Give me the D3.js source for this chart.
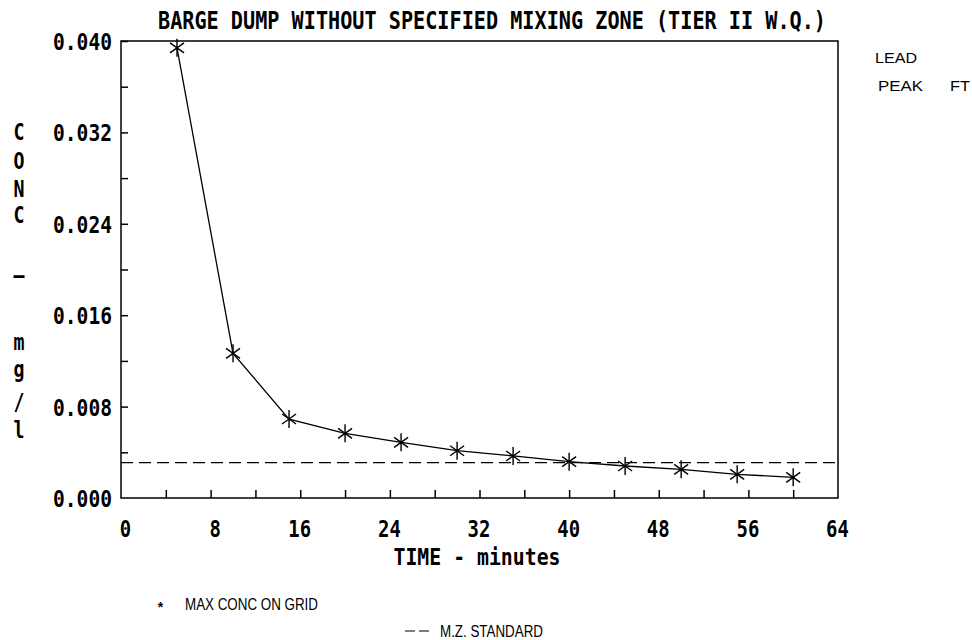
<!DOCTYPE html>
<html>
<head>
<meta charset="utf-8">
<script src="https://cdn.jsdelivr.net/npm/d3@7"></script>
<style>
  html, body { margin: 0; padding: 0; background: #fff; }
  svg { display: block; }
  .mono { font-family: "DejaVu Sans Mono", "Liberation Mono", monospace; font-weight: bold; }
  .sans { font-family: "Liberation Sans", Arial, sans-serif; }
</style>
</head>
<body>
<svg id="chart" width="972" height="640"></svg>
<script>
// ---- data ----
const times = [5, 10, 15, 20, 25, 30, 35, 40, 45, 50, 55, 60];
const maxConc = [0.0394, 0.01266, 0.00691, 0.00566, 0.00487, 0.00414, 0.00368, 0.00318, 0.00280, 0.00251, 0.00207, 0.00181];
const mzStandard = [0.0031];
const xTickLabels = [0, 8, 16, 24, 32, 40, 48, 56, 64];
const xMinorTicks = [4, 12, 20, 28, 36, 44, 52, 60];
const yTickLabels = [0.000, 0.008, 0.016, 0.024, 0.032, 0.040];
const yMinorTicks = [0.004, 0.012, 0.020, 0.028, 0.036];
const titleText = "BARGE DUMP WITHOUT SPECIFIED MIXING ZONE (TIER II W.Q.)";
const xTitle = "TIME - minutes";
const yTitleChars = ["C", "O", "N", "C", "\u2013", "m", "g", "/", "l"];
const yTitleY = [140, 169, 197, 223, 283, 350, 377, 410, 438];
const sideLabels = ["LEAD", "PEAK", "FT"];
const legendSeries = "MAX CONC ON GRID";
const legendStandard = "M.Z. STANDARD";

(function () {
// ---- layout ----
const mLeft = 121, mRight = 838, mTop = 41, mBottom = 498;
const svg = d3.select("#chart");

const x = d3.scaleLinear().domain([0, 64]).range([mLeft, mRight]);
const y = d3.scaleLinear().domain([0, 0.04]).range([mBottom, mTop]);

// frame
svg.append("rect")
  .attr("x", mLeft).attr("y", mTop)
  .attr("width", mRight - mLeft).attr("height", mBottom - mTop)
  .attr("fill", "none").attr("stroke", "#000").attr("stroke-width", 1.5);

// bottom axis (ticks point upward)
const xAxis = d3.axisBottom(x)
  .tickValues(xTickLabels.concat(xMinorTicks))
  .tickSize(-8)
  .tickFormat(d => xTickLabels.includes(d) ? String(d) : "");
const gx = svg.append("g").attr("transform", `translate(0,${mBottom})`).call(xAxis);
gx.select(".domain").remove();
gx.selectAll(".tick line").attr("stroke", "#000").attr("stroke-width", 1.5)
  .filter(d => d === 0 || d === 64).remove();
gx.selectAll(".tick text")
  .attr("class", "mono")
  .attr("y", 39).attr("dy", null)
  .attr("dx", d => String(d).length === 1 ? 4 : -1)
  .attr("font-size", 23)
  .attr("fill", "#000")
  .attr("textLength", d => xTickLabels.includes(d) ? String(d).length * 11.4 : null)
  .attr("lengthAdjust", "spacingAndGlyphs");

// left axis (ticks point right/inward)
const yAxis = d3.axisLeft(y)
  .tickValues(yTickLabels.concat(yMinorTicks))
  .tickSize(-7)
  .tickFormat(d => yTickLabels.some(v => Math.abs(v - d) < 1e-9) ? d3.format(".3f")(d) : "");
const gy = svg.append("g").attr("transform", `translate(${mLeft},0)`).call(yAxis);
gy.select(".domain").remove();
gy.selectAll(".tick line").attr("stroke", "#000").attr("stroke-width", 1.5)
  .filter(d => Math.abs(d) < 1e-9).remove();
gy.selectAll(".tick text")
  .attr("class", "mono")
  .attr("x", -9).attr("dy", null).attr("y", 8.5)
  .attr("font-size", 23)
  .attr("fill", "#000")
  .attr("text-anchor", "end")
  .attr("textLength", 59)
  .attr("lengthAdjust", "spacingAndGlyphs");

// standard dashed line
svg.append("g").selectAll("line").data(mzStandard).join("line")
  .attr("x1", x(0)).attr("x2", x(64))
  .attr("y1", d => y(d)).attr("y2", d => y(d))
  .attr("stroke", "#000").attr("stroke-width", 1.3)
  .attr("stroke-dasharray", "12,6");

// series line
const pts = times.map((t, i) => [t, maxConc[i]]);
svg.append("path")
  .datum(pts)
  .attr("d", d3.line().x(d => x(d[0])).y(d => y(d[1])))
  .attr("fill", "none").attr("stroke", "#000").attr("stroke-width", 1.3);

// asterisk markers
const star = "M0,-9L0,9M-7,-5L7,5M-7,5L7,-5";
svg.append("g").selectAll("path").data(pts).join("path")
  .attr("transform", d => `translate(${x(d[0])},${y(d[1])})`)
  .attr("d", star)
  .attr("fill", "none").attr("stroke", "#000").attr("stroke-width", 1.4);

// title
svg.append("text").attr("class", "mono")
  .attr("x", 492).attr("y", 28.5)
  .attr("text-anchor", "middle")
  .attr("font-size", 25)
  .attr("textLength", 668).attr("lengthAdjust", "spacingAndGlyphs")
  .text(titleText);

// x title
svg.append("text").attr("class", "mono")
  .attr("x", 477).attr("y", 565)
  .attr("text-anchor", "middle")
  .attr("font-size", 23)
  .attr("textLength", 167).attr("lengthAdjust", "spacingAndGlyphs")
  .text(xTitle);

// y title (vertical stacked letters)
svg.append("g").selectAll("text").data(yTitleChars).join("text")
  .attr("class", "mono")
  .attr("x", 19)
  .attr("y", (d, i) => yTitleY[i])
  .attr("text-anchor", "middle")
  .attr("font-size", 23)
  .attr("textLength", 11).attr("lengthAdjust", "spacingAndGlyphs")
  .text(d => d);

// right side labels
svg.append("text").attr("class", "sans")
  .attr("x", 875).attr("y", 63).attr("font-size", 15)
  .attr("textLength", 42).attr("lengthAdjust", "spacingAndGlyphs")
  .text(sideLabels[0]);
svg.append("text").attr("class", "sans")
  .attr("x", 878).attr("y", 91).attr("font-size", 15)
  .attr("textLength", 45).attr("lengthAdjust", "spacingAndGlyphs")
  .text(sideLabels[1]);
svg.append("text").attr("class", "sans")
  .attr("x", 950).attr("y", 91).attr("font-size", 15)
  .attr("textLength", 20).attr("lengthAdjust", "spacingAndGlyphs")
  .text(sideLabels[2]);

// legend
svg.append("text").attr("class", "sans")
  .attr("x", 160.5).attr("y", 612).attr("font-size", 14).attr("text-anchor", "middle")
  .attr("font-weight", "bold")
  .text("*");
svg.append("text").attr("class", "sans")
  .attr("x", 185).attr("y", 610).attr("font-size", 16)
  .attr("textLength", 133).attr("lengthAdjust", "spacingAndGlyphs")
  .text(legendSeries);
svg.append("line")
  .attr("x1", 405).attr("x2", 429).attr("y1", 631).attr("y2", 631)
  .attr("stroke", "#000").attr("stroke-width", 1.2).attr("stroke-dasharray", "10,4");
svg.append("text").attr("class", "sans")
  .attr("x", 440).attr("y", 637).attr("font-size", 16)
  .attr("textLength", 103).attr("lengthAdjust", "spacingAndGlyphs")
  .text(legendStandard);
})();
</script>
</body>
</html>
